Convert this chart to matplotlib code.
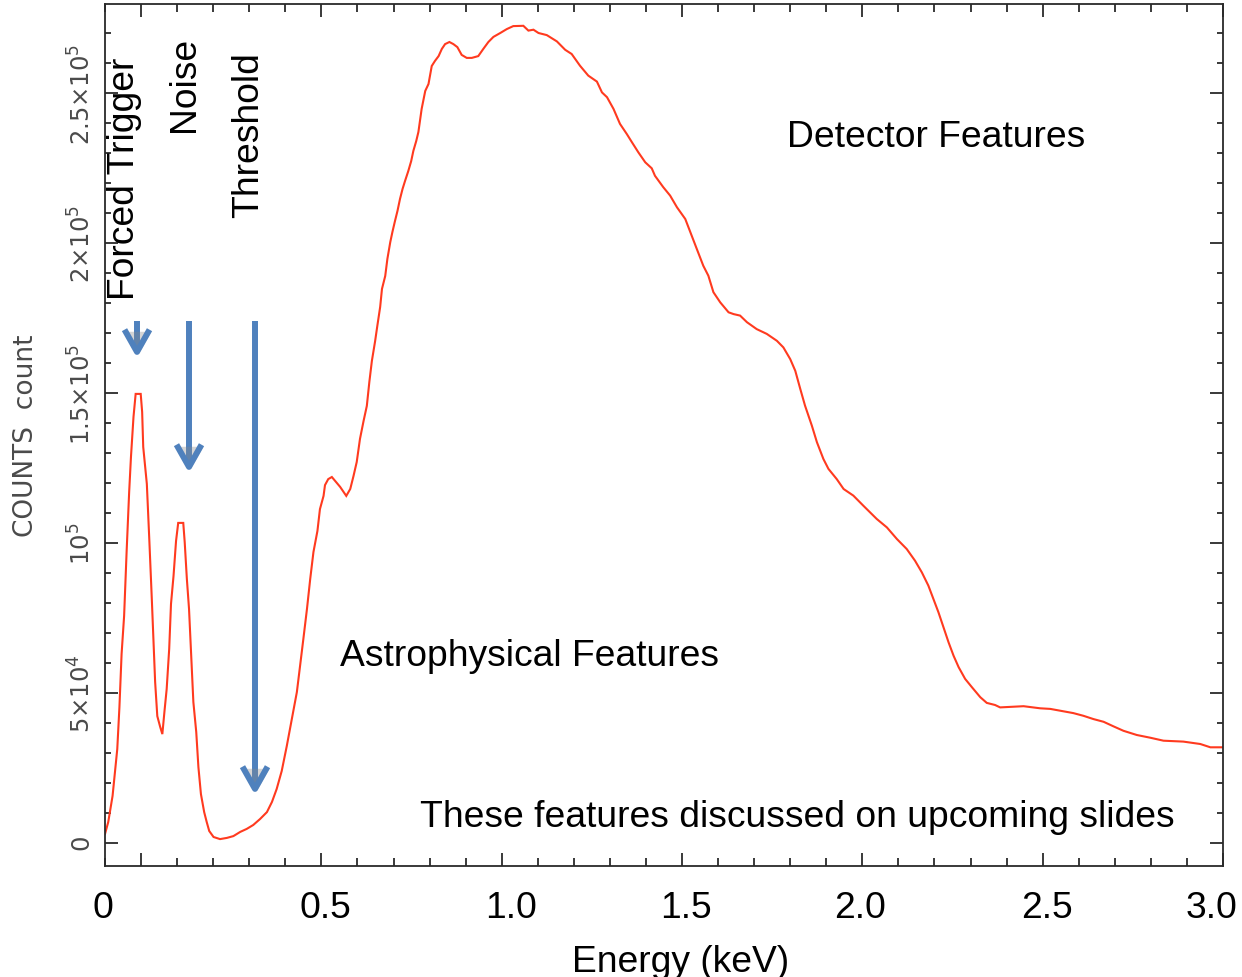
import matplotlib
matplotlib.use("Agg")
import matplotlib.pyplot as plt
from matplotlib.ticker import MultipleLocator, FixedLocator
from matplotlib.transforms import ScaledTranslation
import matplotlib.patheffects as pe

# ---------------- data ----------------
energy_kev = [
    -0.100, -0.091, -0.079, -0.072, -0.066, -0.060, -0.054, -0.047, -0.040, -0.033,
    -0.028, -0.021, -0.015, -0.001, 0.003, 0.006, 0.016, 0.023, 0.030, 0.034,
    0.039, 0.045, 0.053, 0.059, 0.065, 0.071, 0.078, 0.083, 0.090, 0.097,
    0.103, 0.117, 0.121, 0.127, 0.133, 0.139, 0.145, 0.153, 0.159, 0.166,
    0.175, 0.182, 0.189, 0.201, 0.219, 0.238, 0.256, 0.275, 0.293, 0.311,
    0.330, 0.349, 0.363, 0.376, 0.390, 0.404, 0.418, 0.432, 0.441, 0.450,
    0.460, 0.469, 0.478, 0.489, 0.496, 0.506, 0.510, 0.519, 0.529, 0.538,
    0.552, 0.569, 0.580, 0.589, 0.598, 0.607, 0.617, 0.626, 0.633, 0.640,
    0.649, 0.655, 0.663, 0.668, 0.677, 0.683, 0.691, 0.697, 0.704, 0.711,
    0.718, 0.725, 0.732, 0.741, 0.749, 0.755, 0.763, 0.769, 0.778, 0.788,
    0.797, 0.806, 0.815, 0.825, 0.834, 0.843, 0.855, 0.866, 0.877, 0.889,
    0.903, 0.917, 0.935, 0.949, 0.963, 0.977, 0.996, 1.014, 1.032, 1.060,
    1.074, 1.088, 1.102, 1.125, 1.153, 1.176, 1.194, 1.217, 1.240, 1.264,
    1.278, 1.292, 1.310, 1.328, 1.347, 1.361, 1.379, 1.398, 1.416, 1.425,
    1.448, 1.467, 1.486, 1.509, 1.523, 1.541, 1.559, 1.573, 1.587, 1.606,
    1.629, 1.643, 1.661, 1.680, 1.707, 1.735, 1.763, 1.781, 1.800, 1.814,
    1.828, 1.841, 1.860, 1.874, 1.892, 1.906, 1.929, 1.948, 1.975, 2.003,
    2.040, 2.068, 2.096, 2.123, 2.146, 2.165, 2.183, 2.197, 2.211, 2.225,
    2.239, 2.253, 2.267, 2.285, 2.304, 2.327, 2.345, 2.368, 2.382, 2.447,
    2.493, 2.521, 2.549, 2.585, 2.613, 2.641, 2.669, 2.696, 2.724, 2.761,
    2.798, 2.835, 2.890, 2.937, 2.965, 3.000,
]
counts = [
    3000, 7000, 15700, 24000, 31300, 45300, 63000, 75700, 97300, 117000,
    128700, 142000, 149700, 149700, 143700, 132000, 119700, 100700, 80700, 68300,
    53700, 42300, 38700, 36300, 44000, 51300, 64700, 79700, 89000, 100700,
    106700, 106700, 100300, 88000, 78000, 62300, 47000, 37000, 25300, 16300,
    10300, 7000, 4000, 2000, 1300, 1700, 2300, 3700, 4700, 6000,
    8000, 10300, 13700, 18000, 24000, 32300, 41300, 50300, 59000, 68000,
    78000, 88000, 97000, 104000, 111300, 115700, 119300, 121300, 122000, 120700,
    118700, 115700, 118000, 122300, 127000, 134700, 140700, 145700, 153700, 160700,
    167300, 172300, 178700, 184700, 189000, 194700, 200300, 203700, 207300, 210700,
    214700, 218000, 220700, 224000, 227300, 230700, 234000, 237000, 244700, 250700,
    253000, 259000, 260700, 262300, 264700, 266300, 267000, 266300, 265300, 262700,
    261700, 261700, 262300, 264700, 267000, 268700, 270000, 271300, 272300, 272400,
    270800, 271100, 270000, 269300, 267200, 264400, 263000, 259100, 255800, 253800,
    250200, 248600, 244700, 239700, 236300, 233600, 230200, 226900, 224900, 222400,
    218600, 215800, 211900, 208000, 203600, 198000, 192400, 189100, 183600, 180200,
    176900, 176300, 175800, 173600, 171300, 169700, 167400, 165200, 161300, 157400,
    151300, 145800, 139100, 133600, 128000, 124700, 121300, 118000, 115800, 112400,
    108000, 105200, 101300, 98000, 94100, 90200, 85800, 81300, 76900, 71900,
    66900, 62400, 58600, 54700, 51900, 48600, 46700, 46000, 45200, 45600,
    44900, 44700, 44100, 43300, 42400, 41300, 40400, 38900, 37400, 36000,
    35100, 34100, 33800, 33000, 31900, 31900,
]

x_tick_values = [0.0, 0.5, 1.0, 1.5, 2.0, 2.5, 3.0]
x_tick_labels = ["0", "0.5", "1.0", "1.5", "2.0", "2.5", "3.0"]
y_tick_values = [0, 50000, 100000, 150000, 200000, 250000]
y_tick_labels = [r"$0$", r"$5{\times}10^4$", r"$10^5$", r"$1.5{\times}10^5$",
                 r"$2{\times}10^5$", r"$2.5{\times}10^5$"]

feature_labels = ["Forced Trigger", "Noise", "Threshold"]

# ---------------- figure ----------------
W, H = 1242, 978
fig = plt.figure(figsize=(W / 100, H / 100), dpi=100)
fig.patch.set_facecolor("white")

L, R, T, B = 105, 1223, 5, 867
ax = fig.add_axes([L / W, 1 - B / H, (R - L) / W, (B - T) / H])

def fxy(px, py):
    return px / W, 1 - py / H

ax.plot(energy_kev, counts, color="#ff3a1f", lw=1.5, solid_joinstyle="miter")

ax.set_xlim(-0.1, 3.0)
ax.set_ylim(-7667, 279667)

for s in ax.spines.values():
    s.set_color("#2a2a2a")
    s.set_linewidth(1.3)

ax.xaxis.set_major_locator(FixedLocator(x_tick_values))
ax.xaxis.set_minor_locator(MultipleLocator(0.1))
ax.yaxis.set_major_locator(FixedLocator(y_tick_values))
ax.yaxis.set_minor_locator(MultipleLocator(10000))

ax.tick_params(axis="both", which="both", direction="in", top=True, right=True,
               color="#2a2a2a", width=1.3)
ax.tick_params(axis="x", which="major", length=9.5, pad=17)
ax.tick_params(axis="x", which="minor", length=6)
ax.tick_params(axis="y", which="major", length=9.5, pad=7)
ax.tick_params(axis="y", which="minor", length=4)

slide_font = "Liberation Sans"
ax.set_xticklabels(x_tick_labels, fontsize=26.8, family=slide_font, color="black")
x_offsets_px = [-38, 4, 9, 4, -2, 4, -11]
for lab, dx in zip(ax.get_xticklabels(), x_offsets_px):
    lab.set_transform(lab.get_transform() + ScaledTranslation(dx / 100, 0, fig.dpi_scale_trans))

ax.set_yticklabels(y_tick_labels, fontsize=17.5, color="#4a4a4a")
for lab in ax.get_yticklabels():
    lab.set_rotation(90)
    lab.set_va("center")

# axis titles
fig.text(*fxy(26, 436), "COUNTS  count", rotation=90, ha="center", va="center",
         fontsize=19, color="#4a4a4a", family="DejaVu Sans")
fig.text(*fxy(681, 972), "Energy (keV)", ha="center", va="baseline",
         fontsize=26.8, family=slide_font, color="black")

# slide annotations
fig.text(*fxy(787, 147), "Detector Features", ha="left", va="baseline",
         fontsize=26.8, family=slide_font)
fig.text(*fxy(340, 666), "Astrophysical Features", ha="left", va="baseline",
         fontsize=26.8, family=slide_font)
fig.text(*fxy(420, 827), "These features discussed on upcoming slides", ha="left",
         va="baseline", fontsize=26.8, family=slide_font)

rot_pos = [(134, 300), (194, 132), (258, 218)]
for txt, (px, py) in zip(feature_labels, rot_pos):
    fig.text(*fxy(px, py), txt, rotation=90, rotation_mode="anchor",
             ha="left", va="baseline", fontsize=26.8, family=slide_font)

# arrows
arrow_specs = [(137, 322, 359), (189, 322, 474), (255, 322, 796)]
for px, y0, y1 in arrow_specs:
    ax.annotate("", xy=fxy(px, y1), xytext=fxy(px, y0),
                xycoords="figure fraction", textcoords="figure fraction",
                arrowprops=dict(arrowstyle="->, head_length=0.8, head_width=0.45",
                                color="#4f81bd", lw=4.3, shrinkA=0, shrinkB=0,
                                mutation_scale=20, capstyle="butt",
                                path_effects=[pe.withSimplePatchShadow(offset=(1.5, -1.5),
                                                                       shadow_rgbFace="#888888",
                                                                       alpha=0.35)]))

fig.savefig("out.png", dpi=100)
